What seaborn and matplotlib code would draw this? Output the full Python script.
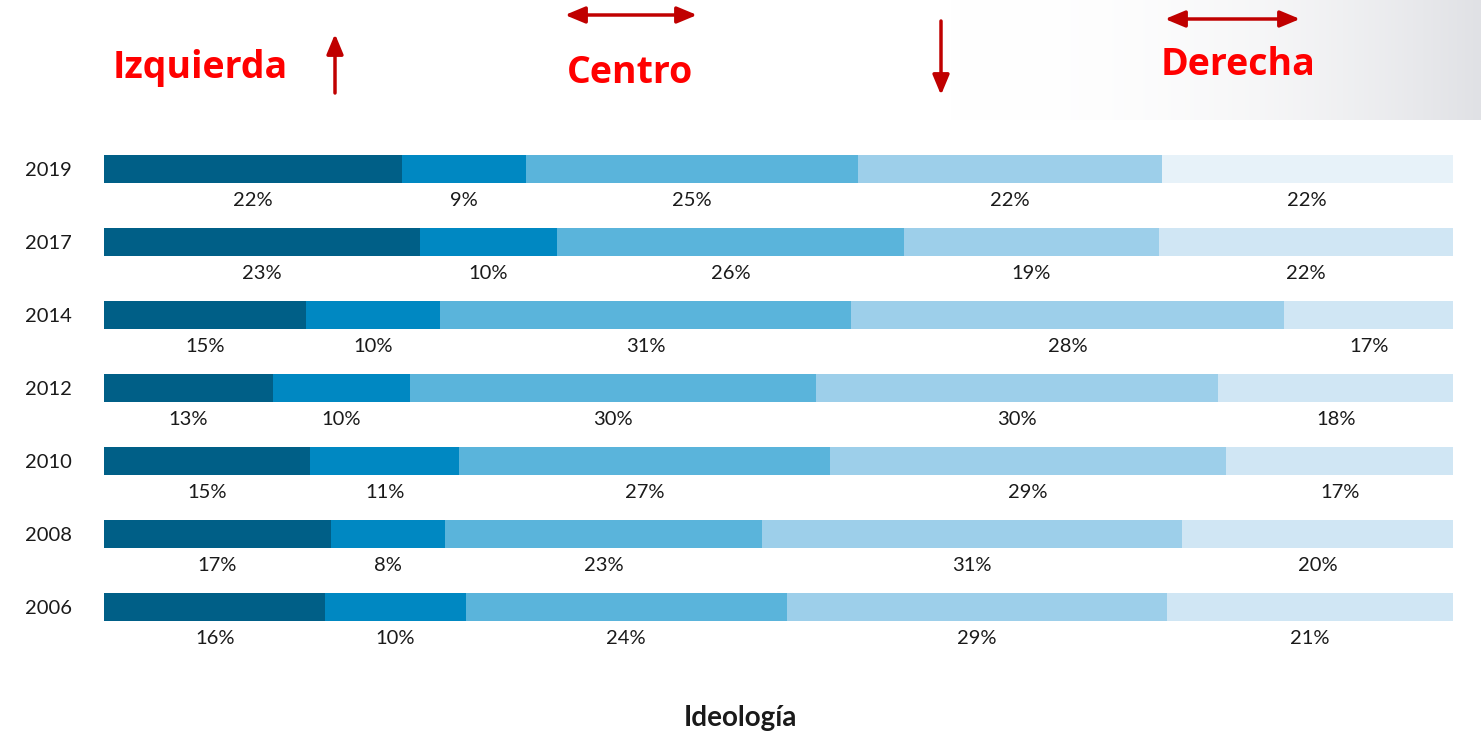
import numpy as np
import pandas as pd
import matplotlib
matplotlib.use("Agg")
import matplotlib.pyplot as plt
import seaborn as sns

# ---------------- data ----------------
years = ["2019", "2017", "2014", "2012", "2010", "2008", "2006"]
# bar segment widths as drawn (percent of bar)
seg1 = [22.1, 23.4, 15.0, 12.5, 15.3, 16.8, 16.4]
seg2 = [9.2, 10.2, 9.9, 10.2, 11.0, 8.5, 10.4]
seg3 = [24.6, 25.7, 30.5, 30.1, 27.5, 23.5, 23.8]
seg4 = [22.5, 18.9, 32.1, 29.8, 29.4, 31.1, 28.2]
seg5 = [21.6, 21.8, 12.5, 17.4, 16.8, 20.1, 21.2]
# printed labels
lab1 = ["22%", "23%", "15%", "13%", "15%", "17%", "16%"]
lab2 = ["9%", "10%", "10%", "10%", "11%", "8%", "10%"]
lab3 = ["25%", "26%", "31%", "30%", "27%", "23%", "24%"]
lab4 = ["22%", "19%", "28%", "30%", "29%", "31%", "29%"]
lab5 = ["22%", "22%", "17%", "18%", "17%", "20%", "21%"]

segments = [seg1, seg2, seg3, seg4, seg5]
labels = [lab1, lab2, lab3, lab4, lab5]
colors = ["#005f87", "#0088c2", "#5ab4db", "#9dcfea", "#d0e6f4"]
last_colors = {y: "#d0e6f4" for y in years}
last_colors["2019"] = "#e7f2f9"

W, H = 1481, 735
sns.set_style("white")
plt.rcParams["font.family"] = ["Lato", "DejaVu Sans"]

fig = plt.figure(figsize=(W / 100, H / 100), dpi=100)

# top-right gradient background
gax = fig.add_axes([950 / W, 1 - 120 / H, (W - 950) / W, 120 / H], zorder=0)
t = np.linspace(0, 1, 400) ** 2.3
c0 = np.array([1.0, 1.0, 1.0])
c1 = np.array([224, 225, 229]) / 255
grad = c0[None, :] * (1 - t[:, None]) + c1[None, :] * t[:, None]
gax.imshow(grad[None, :, :], aspect="auto", extent=[0, 1, 0, 1])
gax.axis("off")

ax_top = 132.5
ax_bot = 643.5
ax = fig.add_axes([104 / W, 1 - ax_bot / H, (1453 - 104) / W, (ax_bot - ax_top) / H], zorder=1)

arr = np.array(segments)
cums = np.cumsum(arr, axis=0)
starts = cums - arr
df = pd.DataFrame({"year": years})

for i in range(4, -1, -1):
    df["val"] = cums[i]
    if i == 4:
        sns.barplot(data=df, x="val", y="year", hue="year", palette=last_colors,
                    orient="h", width=0.37, legend=False, ax=ax, linewidth=0,
                    saturation=1, order=years, hue_order=years)
    else:
        sns.barplot(data=df, x="val", y="year", color=colors[i], orient="h",
                    width=0.37, ax=ax, linewidth=0, saturation=1, order=years)

for i in range(5):
    for j, y in enumerate(years):
        cx = starts[i][j] + arr[i][j] / 2
        ax.annotate(labels[i][j], xy=(cx, j), xytext=(0, -22.5),
                    textcoords="offset points", ha="center", va="center",
                    fontsize=14.5, color="#1a1a1a")

ax.set_xlim(0, 100)
ax.set_ylim(6.5, -0.5)
ax.set_xlabel("")
ax.set_ylabel("")
ax.set_xticks([])
ax.tick_params(axis="y", length=0, pad=23, labelsize=14.5, labelcolor="#1a1a1a")
for s in ax.spines.values():
    s.set_visible(False)
ax.patch.set_alpha(0)

# bottom title
fig.text(740 / W, 1 - 718 / H, "Ideología", ha="center", va="center",
         fontsize=20, fontweight="bold", color="#1a1a1a")

# red annotations
red = "#ff0000"
dark = "#c00000"
for txt, x, y in [("Izquierda", 200, 68), ("Centro", 630, 73), ("Derecha", 1238, 65)]:
    fig.text(x / W, 1 - y / H, txt, ha="center", va="center", fontsize=27,
             fontweight="bold", color=red, family=["Open Sans", "DejaVu Sans"])

def arrow(x0, y0, x1, y1, style):
    fig.add_artist(matplotlib.patches.FancyArrowPatch(
        (x0 / W, 1 - y0 / H), (x1 / W, 1 - y1 / H), transform=fig.transFigure,
        arrowstyle=style, mutation_scale=20, color=dark, lw=2.5,
        shrinkA=0, shrinkB=0))

arrow(335, 93, 335, 34, "-|>,head_length=0.6,head_width=0.25")
arrow(941, 21, 941, 95, "-|>,head_length=0.6,head_width=0.25")
arrow(565, 15, 697, 15, "<|-|>,head_length=0.6,head_width=0.25")
arrow(1165, 19, 1300, 19, "<|-|>,head_length=0.6,head_width=0.25")

fig.savefig("out.png", dpi=100)
